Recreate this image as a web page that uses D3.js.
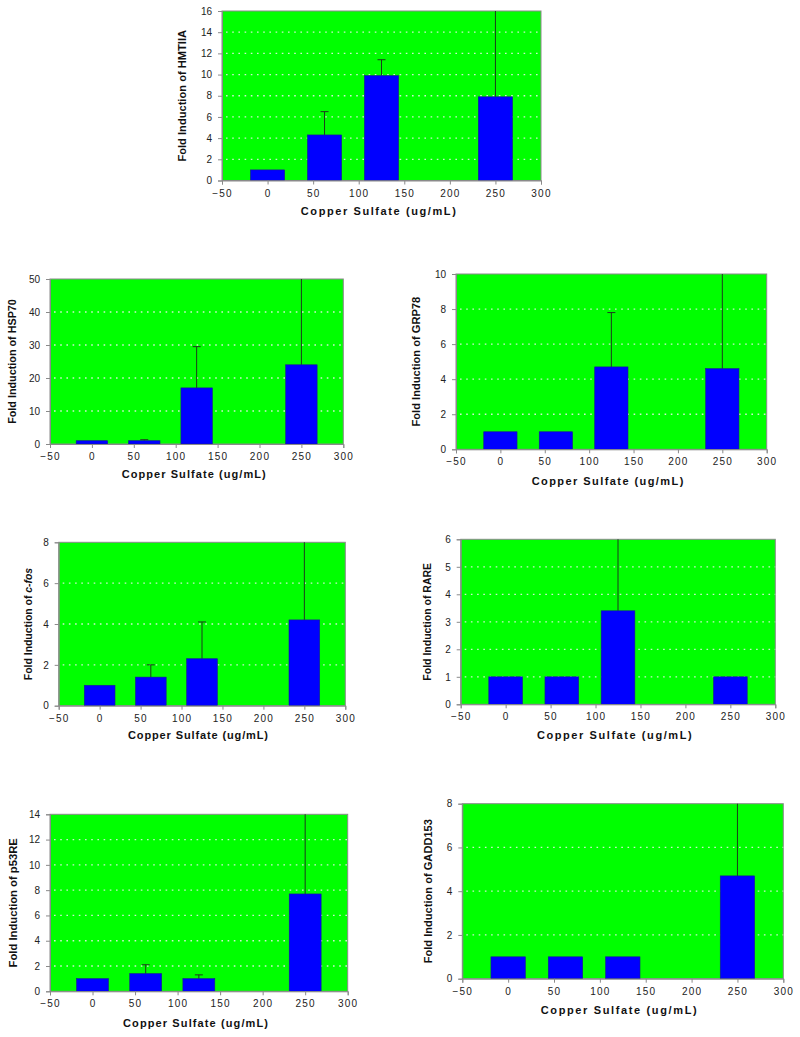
<!DOCTYPE html>
<html>
<head>
<meta charset="utf-8">
<script src="https://cdn.jsdelivr.net/npm/d3@7"></script>
<style>
  html, body { margin: 0; padding: 0; background: #ffffff; }
  svg { display: block; }
  text { font-family: "Liberation Sans", Arial, sans-serif; }
</style>
</head>
<body>
<svg id="chart" width="800" height="1037"></svg>
<script>
// ---------------- DATA ----------------
const concentrations = [0, 62.5, 125, 250];
const xTicks = [-50, 0, 50, 100, 150, 200, 250, 300];

const hmtiiaValues = [1, 4.3, 9.9, 7.9];
const hmtiiaErrTop = [null, 6.5, 11.4, 20];
const hmtiiaTicks = [0, 2, 4, 6, 8, 10, 12, 14, 16];

const hsp70Values = [1, 1, 17, 24];
const hsp70ErrTop = [null, 1.3, 29.5, 60];
const hsp70Ticks = [0, 10, 20, 30, 40, 50];

const grp78Values = [1, 1, 4.7, 4.6];
const grp78ErrTop = [null, null, 7.8, 12];
const grp78Ticks = [0, 2, 4, 6, 8, 10];

const cfosValues = [1, 1.4, 2.3, 4.2];
const cfosErrTop = [null, 2.0, 4.1, 10];
const cfosTicks = [0, 2, 4, 6, 8];

const rareValues = [1, 1, 3.4, 1];
const rareErrTop = [null, null, 7, null];
const rareTicks = [0, 1, 2, 3, 4, 5, 6];

const p53Values = [1, 1.4, 1.0, 7.7];
const p53ErrTop = [null, 2.1, 1.3, 16];
const p53Ticks = [0, 2, 4, 6, 8, 10, 12, 14];

const gaddValues = [1, 1, 1, 4.7];
const gaddErrTop = [null, null, null, 10];
const gaddTicks = [0, 2, 4, 6, 8];

const xLabelText = "Copper Sulfate (ug/mL)";
const yLabelPrefix = "Fold Induction of ";

// ---------------- LAYOUT ----------------
const panels = [
  { gene: "HMTIIA", italic: false, values: hmtiiaValues, err: hmtiiaErrTop, ticks: hmtiiaTicks,
    l: 222, r: 541, t: 11, b: 180.5, ylx: 185.5, yll: 131.7, xlc: 378.3, xly: 215, xll: 155 },
  { gene: "HSP70", italic: false, values: hsp70Values, err: hsp70ErrTop, ticks: hsp70Ticks,
    l: 50, r: 343.3, t: 279, b: 444, ylx: 16, yll: 124.7, xlc: 193.7, xly: 478, xll: 144 },
  { gene: "GRP78", italic: false, values: grp78Values, err: grp78ErrTop, ticks: grp78Ticks,
    l: 456, r: 766.7, t: 274, b: 449.3, ylx: 419.5, yll: 129.7, xlc: 607.5, xly: 484.7, xll: 151.7 },
  { gene: "c-fos", italic: true, values: cfosValues, err: cfosErrTop, ticks: cfosTicks,
    l: 58.7, r: 345.3, t: 542.3, b: 705.7, ylx: 32, yll: 112.3, xlc: 198, xly: 739, xll: 140 },
  { gene: "RARE", italic: false, values: rareValues, err: rareErrTop, ticks: rareTicks,
    l: 460.7, r: 775.3, t: 539.3, b: 704.3, ylx: 430.5, yll: 117.7, xlc: 614.3, xly: 739, xll: 154.7 },
  { gene: "p53RE", italic: false, values: p53Values, err: p53ErrTop, ticks: p53Ticks,
    l: 50, r: 347.7, t: 814.3, b: 991.3, ylx: 17, yll: 129.3, xlc: 195.5, xly: 1027.3, xll: 145 },
  { gene: "GADD153", italic: false, values: gaddValues, err: gaddErrTop, ticks: gaddTicks,
    l: 462.3, r: 783.3, t: 803.7, b: 978.7, ylx: 432, yll: 144.3, xlc: 618.7, xly: 1014, xll: 156 }
];

const BAR_WIDTH_UNITS = 37.5;
const svg = d3.select("#chart");

panels.forEach((p, i) => {
  const g = svg.append("g").attr("class", "panel-" + i);
  const x = d3.scaleLinear().domain([-50, 300]).range([p.l, p.r]);
  const yMax = p.ticks[p.ticks.length - 1];
  const y = d3.scaleLinear().domain([0, yMax]).range([p.b, p.t]);

  const clipId = "clip" + i;
  g.append("clipPath").attr("id", clipId)
    .append("rect").attr("x", p.l).attr("y", p.t).attr("width", p.r - p.l).attr("height", p.b - p.t);

  // plot background
  g.append("rect").attr("x", p.l).attr("y", p.t).attr("width", p.r - p.l).attr("height", p.b - p.t)
    .attr("fill", "#00ff00").attr("stroke", "#8a8a8a").attr("stroke-width", 1);

  // dotted gridlines
  g.append("g").selectAll("line").data(p.ticks.filter(v => v > 0 && v < yMax)).join("line")
    .attr("x1", p.l + 4).attr("x2", p.r).attr("y1", d => y(d)).attr("y2", d => y(d))
    .attr("stroke", "#d0f2d0").attr("stroke-width", 1.3).attr("stroke-dasharray", "1.6,4.6");

  const data = concentrations.map((c, k) => ({ c, v: p.values[k], e: p.err[k] }));
  const plot = g.append("g").attr("clip-path", `url(#${clipId})`);

  // error bars (upper only)
  const errData = data.filter(d => d.e != null);
  plot.selectAll("line.err").data(errData).join("line").attr("class", "err")
    .attr("x1", d => x(d.c)).attr("x2", d => x(d.c))
    .attr("y1", d => y(d.v)).attr("y2", d => y(d.e))
    .attr("stroke", "#1e3a1e").attr("stroke-width", 1);
  plot.selectAll("line.cap").data(errData.filter(d => d.e < yMax)).join("line").attr("class", "cap")
    .attr("x1", d => x(d.c) - 4).attr("x2", d => x(d.c) + 4)
    .attr("y1", d => y(d.e)).attr("y2", d => y(d.e))
    .attr("stroke", "#1e3a1e").attr("stroke-width", 1);

  // bars
  plot.selectAll("rect.bar").data(data).join("rect").attr("class", "bar")
    .attr("x", d => x(d.c - BAR_WIDTH_UNITS / 2))
    .attr("width", d => x(d.c + BAR_WIDTH_UNITS / 2) - x(d.c - BAR_WIDTH_UNITS / 2))
    .attr("y", d => y(d.v)).attr("height", d => y(0) - y(d.v))
    .attr("fill", "#0000ff").attr("stroke", "#1a1a90").attr("stroke-width", 0.6);

  // axes
  const yAxis = d3.axisLeft(y).tickValues(p.ticks).tickSize(4).tickPadding(6).tickFormat(d3.format("d"));
  const ya = g.append("g").attr("transform", `translate(${p.l},0)`).call(yAxis);
  const xAxis = d3.axisBottom(x).tickValues(xTicks).tickSize(4).tickPadding(5).tickFormat(d3.format("d"));
  const xa = g.append("g").attr("transform", `translate(0,${p.b})`).call(xAxis);
  [ya, xa].forEach(a => {
    a.select(".domain").attr("stroke", "#8a8a8a");
    a.selectAll(".tick line").attr("stroke", "#8a8a8a");
    a.selectAll(".tick text").attr("fill", "#222").attr("font-size", "10px")
      .attr("font-family", "'Liberation Sans', Arial, sans-serif");
  });
  xa.selectAll(".tick text").attr("letter-spacing", "1.2px");

  // axis titles
  g.append("text").attr("x", p.xlc).attr("y", p.xly).attr("text-anchor", "middle")
    .attr("font-size", "11px").attr("font-weight", "bold").attr("fill", "#111")
    .attr("textLength", p.xll).attr("lengthAdjust", "spacing")
    .text(xLabelText);

  const yl = g.append("text")
    .attr("transform", `translate(${p.ylx},${(p.t + p.b) / 2}) rotate(-90)`)
    .attr("text-anchor", "middle").attr("font-size", "11px").attr("font-weight", "bold").attr("fill", "#111")
    .attr("textLength", p.yll).attr("lengthAdjust", "spacingAndGlyphs");
  yl.append("tspan").text(yLabelPrefix);
  yl.append("tspan").attr("font-style", p.italic ? "italic" : "normal").text(p.gene);
});
</script>
</body>
</html>
